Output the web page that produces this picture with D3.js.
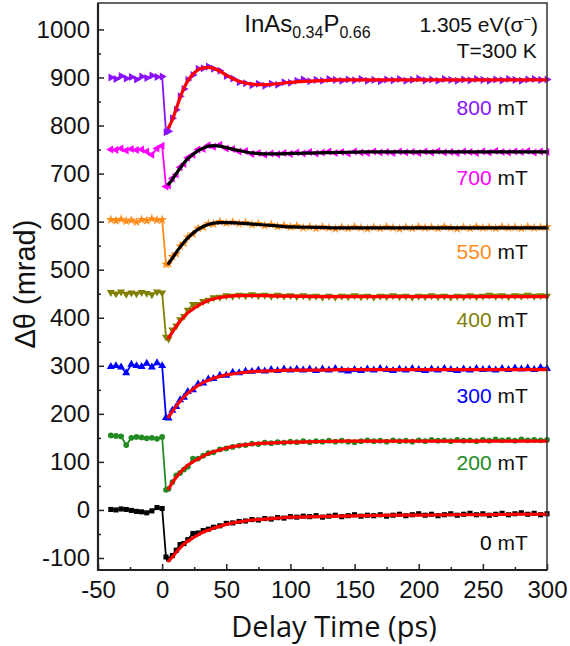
<!DOCTYPE html>
<html>
<head>
<meta charset="utf-8">
<script src="https://cdn.jsdelivr.net/npm/d3@7"></script>
<style>
  body { margin: 0; background: #fff; }
  svg text { font-family: "Liberation Sans", Arial, sans-serif; }
</style>
</head>
<body>
<svg width="570" height="646"></svg>
<script>
// delay grid of the measured points (ps)
var delay = [-40,-36,-32,-28,-24,-20,-16,-12,-8,-4,
  0,3,5,8,11,14,17,20,24,28,
  32,36,40,45,50,55,60,65,70,75,
  80,85,90,95,100,105,110,115,120,125,
  130,135,140,145,150,155,160,165,170,175,
  180,185,190,195,200,205,210,215,220,225,
  230,235,240,245,250,255,260,265,270,275,
  280,285,290,295,300];

// delay grid of the fitted curves (ps)
var fitDelay = [5,8,11,14,17,20,24,28,32,36,40,45,50,60,70,80,90,100,120,140,160,180,200,225,250,275,300];

var fields = ["800", "700", "550", "400", "300", "200", "0"];
var colors = ["#8a12fb", "#ff00ff", "#ff8c1a", "#808000", "#0000ff", "#228b22", "#000000"];
var fitColors = ["#ff0000", "#000000", "#000000", "#ff0000", "#ff0000", "#ff0000", "#ff0000"];
var markers = ["triRight", "triLeft", "star", "triDown", "triUp", "circle", "square"];

var data800 = [900,897,903,898,901,896,902,899,904,901,
  902,786,788,815,833,861,876,895,905,918,
  919,923,918,914,903,898,890,888,884,887,
  883,887,885,890,889,893,896,892,895,893,
  897,895,893,896,894,897,893,895,892,896,
  894,897,893,895,898,894,896,893,897,895,
  893,896,894,897,895,893,896,894,897,895,
  893,896,897,895,896];
var data700 = [750,749,752,748,751,749,750,746,739,752,
  758,673,675,690,698,713,720,733,739,750,
  751,759,756,760,752,751,746,747,741,743,
  739,742,740,743,741,744,742,745,742,744,
  746,743,745,742,746,744,743,746,744,745,
  743,746,744,745,743,746,744,747,744,745,
  743,746,745,743,746,744,747,745,744,746,
  745,747,744,746,745];
var data550 = [604,602,605,601,603,599,604,602,606,603,
  604,511,512,527,533,549,555,568,574,586,
  588,596,595,600,597,599,596,598,594,596,
  592,594,590,592,589,591,587,589,586,589,
  587,585,588,586,589,587,585,588,586,589,
  587,585,588,586,589,587,588,586,589,587,
  585,588,586,589,587,588,586,589,587,588,
  586,589,587,588,589];
var data400 = [453,450,454,449,452,450,453,451,448,454,
  452,360,356,375,383,396,403,416,428,428,
  434,437,442,443,446,445,447,446,448,446,
  447,445,447,445,446,444,446,444,445,443,
  445,443,445,444,446,444,445,443,445,444,
  446,444,445,443,445,444,446,444,445,443,
  445,444,446,444,445,447,445,446,444,446,
  445,447,445,446,445];
var data300 = [298,300,297,285,303,300,298,305,297,306,
  300,192,191,207,215,229,234,246,250,262,
  264,272,273,280,280,286,285,289,288,291,
  289,292,290,293,291,293,291,293,290,293,
  291,294,291,289,292,290,293,291,294,292,
  290,293,291,294,292,290,293,291,294,292,
  290,293,291,294,292,293,291,294,292,295,
  293,295,292,296,294];
var data200 = [155,154,153,135,150,152,151,149,150,148,
  152,42,44,58,72,77,84,90,107,107,
  113,118,120,126,128,131,134,135,138,137,
  140,139,141,140,142,141,143,141,143,142,
  144,142,144,142,141,143,145,143,144,142,
  145,143,144,142,145,143,146,144,145,143,
  146,144,145,143,146,144,147,145,146,144,
  147,145,146,145,146];
var data0 = [1,0,2,1,-1,-3,-4,-6,-2,5,
  3,-98,-102,-95,-84,-72,-70,-62,-49,-48,
  -43,-40,-36,-33,-28,-27,-24,-23,-20,-21,
  -18,-19,-16,-17,-14,-15,-13,-14,-12,-15,
  -13,-11,-14,-12,-10,-13,-11,-12,-10,-13,
  -11,-9,-12,-10,-8,-11,-9,-12,-10,-8,
  -11,-9,-7,-10,-8,-11,-9,-7,-10,-8,
  -6,-9,-7,-10,-8];

var fit800 = [796,812,835,858,878,893,907,916,920,921,919,913,905,892,886,885,887,890,893,895,895,895,895,895,895,895,895];
var fit700 = [678,688,700,711,722,731,740,748,753,757,758,757,754,748,743,741,741,742,743,744,745,745,745,745,745,745,745];
var fit550 = [513,524,536,547,557,566,576,584,590,594,597,598,598,597,595,593,591,589,588,587,587,587,587,587,587,587,587];
var fit400 = [358,370,382,393,402,410,418,425,431,436,439,442,444,446,446,446,445,445,444,444,444,444,444,444,444,444,444];
var fit300 = [193,205,216,226,235,243,251,259,265,270,274,278,281,285,288,289,290,291,291,292,292,292,292,292,292,292,292];
var fit200 = [44,57,68,78,86,93,100,106,112,117,121,125,129,134,137,139,140,141,142,143,143,143,143,143,143,143,143];
var fit0 = [-106,-98,-88,-79,-71,-65,-58,-52,-46,-42,-38,-34,-30,-25,-21,-19,-17,-15,-14,-13,-12,-11,-11,-10,-10,-9,-9];

var labelValues = [822, 676, 523, 380, 223, 83, -83];

var xTicks = [-50, 0, 50, 100, 150, 200, 250, 300];
var xMinor = [-25, 25, 75, 125, 175, 225, 275];
var yTicks = [-100, 0, 100, 200, 300, 400, 500, 600, 700, 800, 900, 1000];
var yMinor = [-50, 50, 150, 250, 350, 450, 550, 650, 750, 850, 950];

var allData = [data800, data700, data550, data400, data300, data200, data0];
var allFits = [fit800, fit700, fit550, fit400, fit300, fit200, fit0];

var svg = d3.select("svg"),
    margin = {left: 98, right: 23, top: 3, bottom: 76},
    width = +svg.attr("width") - margin.left - margin.right,
    height = +svg.attr("height") - margin.top - margin.bottom;

var x = d3.scaleLinear().domain([-50, 300]).range([0, width]);
var y = d3.scaleLinear().domain([-125, 1055]).range([height, 0]);

var g = svg.append("g").attr("transform", "translate(" + margin.left + "," + margin.top + ")");

var symbolTypes = {
  triRight: [d3.symbolTriangle, 90],
  triLeft: [d3.symbolTriangle, -90],
  triDown: [d3.symbolTriangle, 180],
  triUp: [d3.symbolTriangle, 0],
  star: [d3.symbolStar, 0],
  circle: [d3.symbolCircle, 0],
  square: [d3.symbolSquare, 0]
};

var series = fields.map(function(f, i) {
  return {
    field: f,
    color: colors[i],
    fitColor: fitColors[i],
    marker: markers[i],
    label: labelValues[i],
    points: delay.map(function(t, j) { return {t: t, v: allData[i][j]}; }),
    fit: fitDelay.map(function(t, j) { return {t: t, v: allFits[i][j]}; })
  };
});

var dataLine = d3.line()
    .x(function(d) { return x(d.t); })
    .y(function(d) { return y(d.v); });

var fitLine = d3.line()
    .curve(d3.curveMonotoneX)
    .x(function(d) { return x(d.t); })
    .y(function(d) { return y(d.v); });

// measured traces
var traces = g.append("g").attr("class", "traces")
  .selectAll("g")
  .data(series)
  .enter().append("g");

traces.append("path")
    .attr("d", function(d) { return dataLine(d.points); })
    .attr("fill", "none")
    .attr("stroke", function(d) { return d.color; })
    .attr("stroke-width", 1.8);

traces.each(function(s) {
  var sym = symbolTypes[s.marker];
  var size = s.marker === "star" ? 30 : (s.marker === "circle" || s.marker === "square" ? 26 : 28);
  d3.select(this).selectAll("path.pt")
    .data(s.points)
    .enter().append("path")
      .attr("class", "pt")
      .attr("d", d3.symbol().type(sym[0]).size(size))
      .attr("transform", function(d) {
        return "translate(" + x(d.t) + "," + y(d.v) + ") rotate(" + sym[1] + ")";
      })
      .attr("fill", s.color);
});

// fits
g.append("g").attr("class", "fits")
  .selectAll("path")
  .data(series)
  .enter().append("path")
    .attr("d", function(d) { return fitLine(d.fit); })
    .attr("fill", "none")
    .attr("stroke", function(d) { return d.fitColor; })
    .attr("stroke-width", 3.2)
    .attr("stroke-linecap", "round");

// field labels
var labels = g.append("g").attr("class", "labels")
  .selectAll("text")
  .data(series)
  .enter().append("text")
    .attr("x", x(285))
    .attr("y", function(d) { return y(d.label); })
    .attr("text-anchor", "end")
    .style("font-size", "21px");
labels.append("tspan")
    .attr("fill", function(d) { return d.color; })
    .text(function(d) { return d.field; });
labels.append("tspan")
    .attr("fill", "#111")
    .text(" mT");

// axes
var fmt = function(d) { return String(d); };

g.append("g")
    .attr("transform", "translate(0," + height + ")")
    .call(d3.axisBottom(x).tickValues(xTicks).tickFormat(fmt).tickSizeInner(-6).tickSizeOuter(0).tickPadding(11));
g.append("g")
    .attr("transform", "translate(0," + height + ")")
    .call(d3.axisBottom(x).tickValues(xMinor).tickFormat("").tickSizeInner(-3).tickSizeOuter(0));

g.append("g")
    .call(d3.axisLeft(y).tickValues(yTicks).tickFormat(fmt).tickSizeInner(-6).tickSizeOuter(0).tickPadding(8));
g.append("g")
    .call(d3.axisLeft(y).tickValues(yMinor).tickFormat("").tickSizeInner(-3).tickSizeOuter(0));

g.selectAll(".domain").remove();
g.selectAll(".tick line").attr("stroke", "#222").attr("stroke-width", 1.5);
g.selectAll(".tick text").attr("fill", "#111").style("font-size", "24px")
  .style("font-family", "'Liberation Sans', Arial, sans-serif");

// frame
g.append("rect")
    .attr("width", width)
    .attr("height", height)
    .attr("fill", "none")
    .attr("stroke", "#333")
    .attr("stroke-width", 1.5);
g.append("path")
    .attr("d", "M0,0V" + height + "H" + width)
    .attr("fill", "none")
    .attr("stroke", "#222")
    .attr("stroke-width", 2.2);

// axis titles
svg.append("text")
    .attr("transform", "translate(35," + (margin.top + y(470)) + ") rotate(-90)")
    .attr("text-anchor", "middle")
    .attr("fill", "#111")
    .style("font-size", "29px")
    .text("\u0394\u03b8 (mrad)");

svg.append("text")
    .attr("x", margin.left + x(134))
    .attr("y", 637)
    .attr("text-anchor", "middle")
    .attr("fill", "#111")
    .style("font-family", "'Open Sans', sans-serif")
    .style("font-size", "29px")
    .text("Delay Time (ps)");

// sample annotations
var sample = g.append("text")
    .attr("x", x(64))
    .attr("y", y(995))
    .attr("fill", "#111")
    .style("font-size", "24px");
sample.append("tspan").text("InAs");
sample.append("tspan").attr("dy", 6).style("font-size", "16px").text("0.34");
sample.append("tspan").attr("dy", -6).text("P");
sample.append("tspan").attr("dy", 6).style("font-size", "16px").text("0.66");

var pump = g.append("text")
    .attr("x", x(293))
    .attr("y", y(995))
    .attr("text-anchor", "end")
    .attr("fill", "#111")
    .style("font-size", "21px");
pump.append("tspan").text("1.305 eV(\u03c3");
pump.append("tspan").attr("dy", -8).style("font-size", "13px").text("\u2212");
pump.append("tspan").attr("dy", 8).text(")");

g.append("text")
    .attr("x", x(292))
    .attr("y", y(941))
    .attr("text-anchor", "end")
    .attr("fill", "#111")
    .style("font-size", "21px")
    .text("T=300 K");
</script>
</body>
</html>
